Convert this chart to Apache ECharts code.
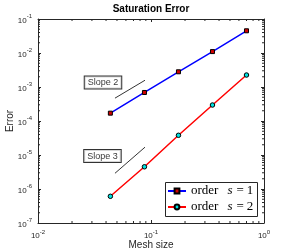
<!DOCTYPE html>
<html><head><meta charset="utf-8">
<script src="https://cdn.jsdelivr.net/npm/echarts@6/dist/echarts.min.js"></script>
<style>html,body{margin:0;padding:0;background:#fff}#c{width:291px;height:251px}</style>
</head><body><div id="c"></div>
<script>
const meshSize = [0.0437, 0.0875, 0.175, 0.35, 0.70];
const order1 = [1.7e-4, 6.9e-4, 2.8e-3, 1.1e-2, 4.5e-2];
const order2 = [6.1e-7, 4.5e-6, 3.8e-5, 2.95e-4, 2.25e-3];
const slope2X = [0.048, 0.0885];
const slope2Y = [4.7e-4, 1.58e-3];
const slope3X = [0.048, 0.0885];
const slope3Y = [2.9e-6, 1.7e-5];
const slopeLabels = ['Slope 2', 'Slope 3'];
const slopeLabelX = [0.0376, 0.0372];
const slopeLabelY = [1.36e-3, 9.3e-6];
const xTicks = [0.01, 0.1, 1];
const yTicks = [1e-7, 1e-6, 1e-5, 1e-4, 1e-3, 1e-2, 1e-1];

const X_MIN = 0.01, X_MAX = 1, Y_MIN = 1e-7, Y_MAX = 0.1;
const xMinor = [], yMinor = [];
for (let e = -2; e < 0; e++) for (let k = 2; k <= 9; k++) xMinor.push(k * Math.pow(10, e));
for (let e = -7; e < -1; e++) for (let k = 2; k <= 9; k++) yMinor.push(k * Math.pow(10, e));

const axisColor = '#262626';
const supRich = {
  b: {fontSize: 8, fontFamily: 'Liberation Sans', color: axisColor, verticalAlign: 'bottom'},
  s: {fontSize: 6, fontFamily: 'Liberation Sans', color: axisColor, verticalAlign: 'bottom', padding: [0, 0, 5, 0]}
};
const fmtPow = v => '{b|10}{s|' + Math.round(Math.log10(v)) + '}';

function logAxis(min, max, extra) {
  return Object.assign({
    type: 'log', logBase: 10, min: min, max: max, interval: 1,
    nameMoveOverlap: false,
    axisLine: {show: true, onZero: false, lineStyle: {color: axisColor, width: 1}},
    axisTick: {show: true, inside: true, length: 3, lineStyle: {color: axisColor}},
    splitLine: {show: false},
    minorTick: {show: false}
  }, extra);
}

const chart = echarts.init(document.getElementById('c'), null, {renderer: 'canvas'});
const option = {
  animation: false,
  backgroundColor: '#fff',
  title: {
    text: 'Saturation Error', left: 151, top: 4, textAlign: 'center', padding: 0,
    textStyle: {fontSize: 10, fontWeight: 'bold', fontFamily: 'Liberation Sans', color: '#000'}
  },
  grid: {left: 38, right: 27, top: 19, bottom: 28, containLabel: false, outerBoundsMode: 'none'},
  xAxis: [
    logAxis(X_MIN, X_MAX, {
      position: 'bottom', name: 'Mesh size', nameLocation: 'middle', nameGap: 17,
      nameTextStyle: {fontSize: 10, fontFamily: 'Liberation Sans', color: axisColor},
      axisLabel: {margin: 6, formatter: fmtPow, rich: supRich}
    }),
    logAxis(X_MIN, X_MAX, {position: 'top', axisLabel: {show: false}})
  ],
  yAxis: [
    logAxis(Y_MIN, Y_MAX, {
      position: 'left', name: 'Error', nameLocation: 'middle', nameGap: 23,
      nameTextStyle: {fontSize: 10, fontFamily: 'Liberation Sans', color: axisColor},
      axisLabel: {margin: 6, formatter: fmtPow, rich: supRich}
    }),
    logAxis(Y_MIN, Y_MAX, {position: 'right', axisLabel: {show: false}})
  ],
  graphic: [{
    type: 'rect', left: 165, top: 182, z: 3,
    shape: {width: 92, height: 34},
    style: {fill: '#fff', stroke: axisColor, lineWidth: 1}
  }],
  legend: {
    orient: 'vertical', left: 165, top: 182, z: 10,
    padding: [2, 3, 2, 2], itemGap: 2, itemWidth: 18, itemHeight: 6,
    borderWidth: 0, backgroundColor: 'transparent',
    data: ['order s = 1', 'order s = 2'],
    formatter: name => '{n|order}{i|s}{m|=}{n|' + name.slice(-1) + '}',
    textStyle: {
      fontSize: 13, fontFamily: 'Liberation Serif', color: '#000', lineHeight: 14,
      rich: {
        n: {fontSize: 13, fontFamily: 'Liberation Serif', color: '#000', lineHeight: 14},
        i: {fontSize: 13, fontFamily: 'Liberation Serif', fontStyle: 'italic', color: '#000', lineHeight: 14, padding: [0, 4, 0, 9]},
        m: {fontSize: 13, fontFamily: 'Liberation Serif', color: '#000', lineHeight: 14, padding: [0, 3, 0, 0]}
      }
    }
  },
  series: [
    {
      name: 'order s = 1', type: 'line', xAxisIndex: 0, yAxisIndex: 0,
      data: meshSize.map((x, i) => [x, order1[i]]),
      symbol: 'rect', symbolSize: 4,
      lineStyle: {color: '#0000ff', width: 1.5},
      itemStyle: {color: '#d00000', borderColor: '#000', borderWidth: 1},
      z: 5
    },
    {
      name: 'order s = 2', type: 'line', xAxisIndex: 0, yAxisIndex: 0,
      data: meshSize.map((x, i) => [x, order2[i]]),
      symbol: 'circle', symbolSize: 4.5,
      lineStyle: {color: '#ff0000', width: 1.5},
      itemStyle: {color: '#00e0e0', borderColor: '#000', borderWidth: 1},
      z: 5
    },
    {
      name: 'slope2', type: 'line', data: slope2X.map((x, i) => [x, slope2Y[i]]),
      symbol: 'none', lineStyle: {color: '#000', width: 0.8}, silent: true
    },
    {
      name: 'slope3', type: 'line', data: slope3X.map((x, i) => [x, slope3Y[i]]),
      symbol: 'none', lineStyle: {color: '#000', width: 0.8}, silent: true
    },
    {
      name: 'slopeLabels', type: 'scatter', symbol: 'circle', symbolSize: 1, silent: true,
      itemStyle: {color: 'rgba(0,0,0,0)'},
      data: slopeLabels.map((t, i) => ({value: [slopeLabelX[i], slopeLabelY[i]], name: t})),
      label: {
        show: true, position: 'inside', formatter: p => p.name,
        fontSize: 9, fontFamily: 'Liberation Sans', color: '#000',
        backgroundColor: '#fff', borderColor: '#000', borderWidth: 1,
        padding: [2, 3, 1, 3]
      },
      z: 6
    },
    {
      name: 'xMinor', type: 'custom', silent: true,
      data: xMinor.map(v => [v, Y_MIN]),
      renderItem: (params, api) => {
        const v = api.value(0);
        const b = api.coord([v, Y_MIN]), t = api.coord([v, Y_MAX]);
        const st = {stroke: axisColor, lineWidth: 1};
        return {type: 'group', children: [
          {type: 'line', shape: {x1: b[0], y1: b[1], x2: b[0], y2: b[1] - 2}, style: st},
          {type: 'line', shape: {x1: t[0], y1: t[1], x2: t[0], y2: t[1] + 2}, style: st}
        ]};
      }
    },
    {
      name: 'yMinor', type: 'custom', silent: true,
      data: yMinor.map(v => [X_MIN, v]),
      renderItem: (params, api) => {
        const v = api.value(1);
        const l = api.coord([X_MIN, v]), r = api.coord([X_MAX, v]);
        const st = {stroke: axisColor, lineWidth: 1};
        return {type: 'group', children: [
          {type: 'line', shape: {x1: l[0], y1: l[1], x2: l[0] + 2, y2: l[1]}, style: st},
          {type: 'line', shape: {x1: r[0], y1: r[1], x2: r[0] - 2, y2: r[1]}, style: st}
        ]};
      }
    }
  ]
};
chart.setOption(option);
</script></body></html>
